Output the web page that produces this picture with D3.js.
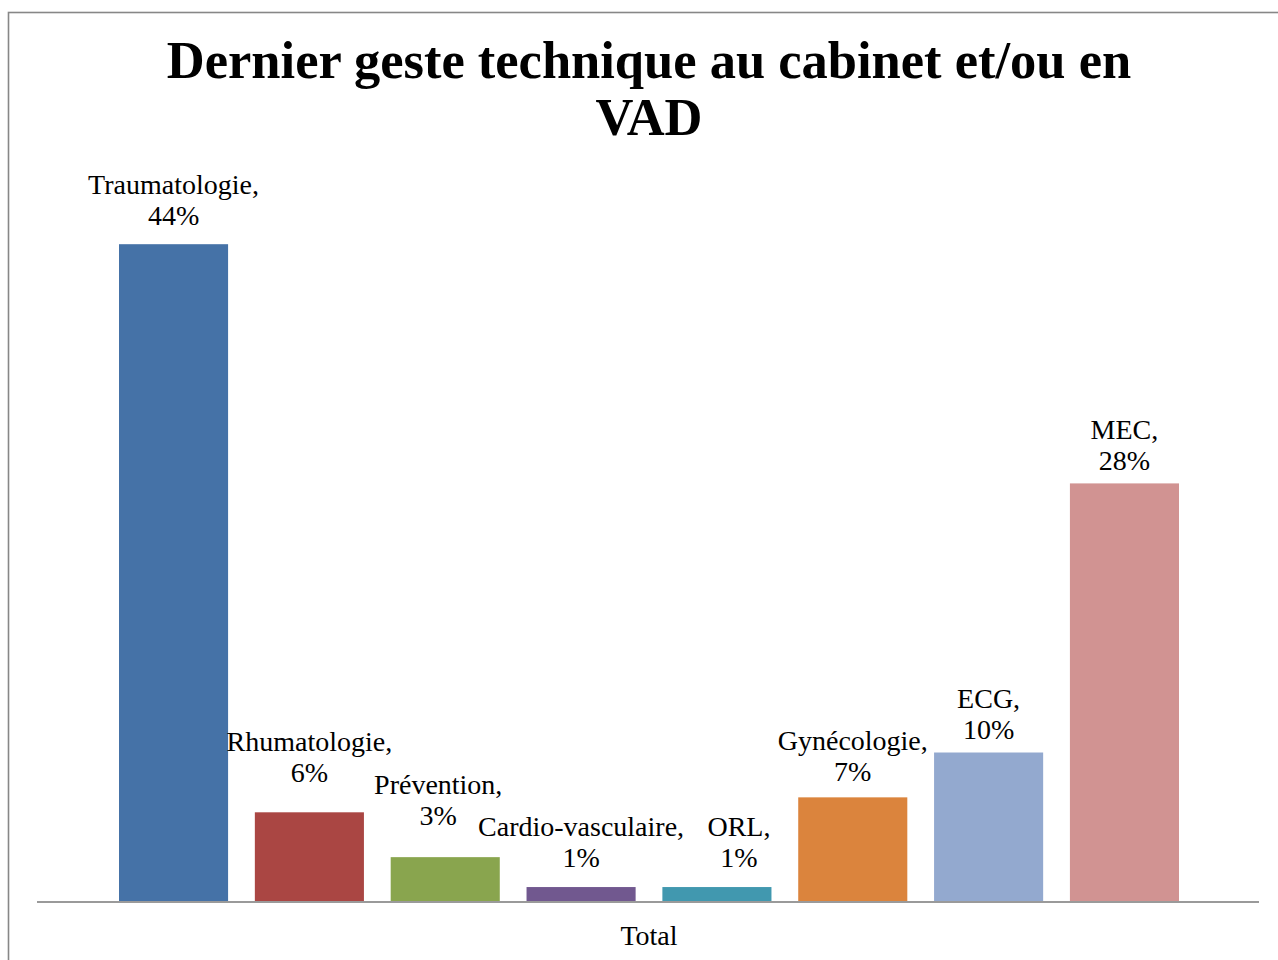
<!DOCTYPE html>
<html>
<head>
<meta charset="utf-8">
<script src="https://cdn.jsdelivr.net/npm/d3@7/dist/d3.min.js"></script>
<style>
  html, body { margin: 0; padding: 0; background: #fff; }
  svg { display: block; }
</style>
</head>
<body>
<script>
// Categories and their shares (%) of the last technical procedure
const categories = ["Traumatologie", "Rhumatologie", "Prévention", "Cardio-vasculaire", "ORL", "Gynécologie", "ECG", "MEC"];
const values = [44, 6, 3, 1, 1, 7, 10, 28];
const colors = ["#4572a7", "#aa4643", "#89a54e", "#71588f", "#4198af", "#db843d", "#93a9cf", "#d19392"];
const titleLines = ["Dernier geste technique au cabinet et/ou en", "VAD"];
const axisLabel = "Total";
// Label nudges [dx, dy] that keep neighbouring labels from colliding
const labelNudge = [[0, -3], [0, -14], [-7, -16], [0, -4], [22, -4], [0, 0], [0, 2], [0, 3]];

const W = 1278, H = 960;
const baseY = 902;

const svg = d3.select("body").append("svg")
  .attr("width", W).attr("height", H);

// Chart frame
svg.append("rect")
  .attr("x", 8.5).attr("y", 12.5)
  .attr("width", 1290).attr("height", 1000)
  .attr("fill", "none")
  .attr("stroke", "#878787")
  .attr("stroke-width", 1.6);

// Title
svg.append("text")
  .attr("text-anchor", "middle")
  .attr("font-family", "'Liberation Serif', serif")
  .attr("font-weight", "bold")
  .attr("font-size", 52.5)
  .attr("fill", "#000")
  .selectAll("tspan")
  .data(titleLines)
  .join("tspan")
  .attr("x", 649)
  .attr("y", (d, i) => 78 + i * 57)
  .text(d => d);

const x = d3.scaleBand()
  .domain(categories)
  .range([119, 1179])
  .paddingInner(0.197)
  .paddingOuter(0);

const y = d3.scaleLinear()
  .domain([0, 50])
  .range([baseY, baseY - 50 * 14.95]);

const data = categories.map((c, i) => ({ cat: c, value: values[i], color: colors[i], nudge: labelNudge[i] }));

// Bars
svg.append("g")
  .selectAll("rect")
  .data(data)
  .join("rect")
  .attr("x", d => x(d.cat))
  .attr("y", d => y(d.value))
  .attr("width", x.bandwidth())
  .attr("height", d => y(0) - y(d.value))
  .attr("fill", d => d.color);

// Category axis line
svg.append("g")
  .attr("transform", `translate(0,${baseY})`)
  .call(g => g.append("line")
    .attr("x1", 37).attr("x2", 1259)
    .attr("y1", 0).attr("y2", 0)
    .attr("stroke", "#9a9a9a")
    .attr("stroke-width", 2));

// Axis title
svg.append("text")
  .attr("x", 649).attr("y", 945)
  .attr("text-anchor", "middle")
  .attr("font-family", "'Liberation Serif', serif")
  .attr("font-size", 28)
  .attr("fill", "#000")
  .text(axisLabel);

// Data labels: "Category," on top, "NN%" below
const labels = svg.append("g")
  .attr("font-family", "'Liberation Serif', serif")
  .attr("font-size", 28)
  .attr("fill", "#000")
  .attr("text-anchor", "middle")
  .selectAll("text")
  .data(data)
  .join("text");

labels.each(function(d) {
  const cx = x(d.cat) + x.bandwidth() / 2 + d.nudge[0];
  const by = y(d.value) - 16 + d.nudge[1];
  const t = d3.select(this);
  t.append("tspan").attr("x", cx).attr("y", by - 31).text(d.cat + ",");
  t.append("tspan").attr("x", cx).attr("y", by).text(d.value + "%");
});
</script>
</body>
</html>
